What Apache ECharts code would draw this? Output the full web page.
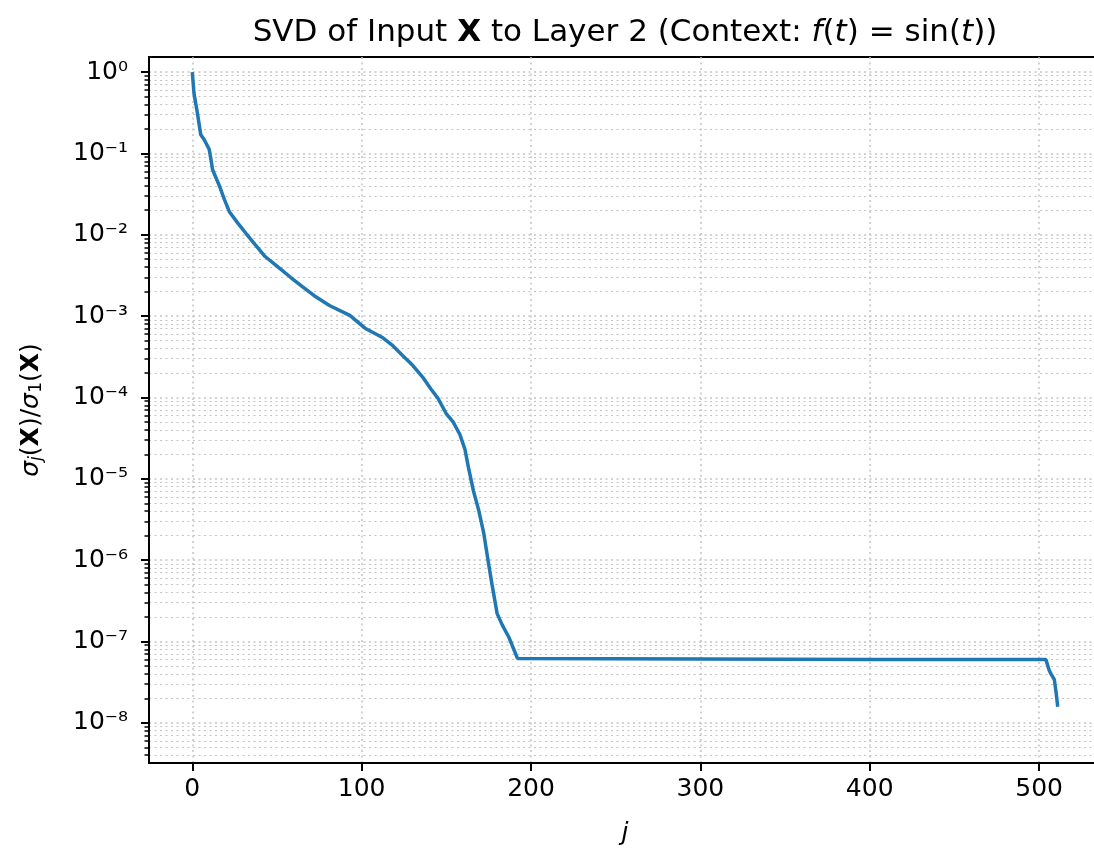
<!DOCTYPE html>
<html>
<head>
<meta charset="utf-8">
<script src="https://cdn.jsdelivr.net/npm/echarts@6/dist/echarts.min.js"></script>
<style>
  html, body { margin: 0; padding: 0; background: #fff; overflow: hidden; }
  #chart { width: 1110px; height: 851px; }
</style>
</head>
<body>
<div id="chart"></div>
<script>
// singular value index j
var jIdx = [0, 1, 3, 5, 7, 10, 11, 12, 16, 19, 22, 27, 32, 37, 43, 52, 58, 65, 72, 81,
  93, 102, 112, 118, 124, 130, 136, 141, 145, 150, 154, 158, 161, 163, 165, 166, 169,
  172, 175, 177, 180, 183, 187, 192, 300, 400, 504, 506, 507, 508, 509, 510, 511];
// sigma_j / sigma_1
var ratio = [1.0, 0.55, 0.316, 0.17, 0.148, 0.112, 0.085, 0.063, 0.040, 0.027, 0.019,
  0.0138, 0.0102, 0.0076, 0.0054, 0.0038, 0.0030, 0.0023, 0.00178, 0.00135,
  0.00102, 0.00071, 0.00055, 0.00044, 0.00033, 0.00025, 0.000178, 0.000126, 9.8e-5,
  6.3e-5, 5.0e-5, 3.5e-5, 2.3e-5, 1.4e-5, 8.9e-6, 7.1e-6, 4.2e-6,
  2.2e-6, 8.9e-7, 5.0e-7, 2.2e-7, 1.6e-7, 1.12e-7, 6.2e-8, 6.1e-8, 6.0e-8, 6.0e-8,
  4.4e-8, 4.0e-8, 3.8e-8, 3.4e-8, 2.4e-8, 1.58e-8];

// tick values
var xTicks = [0, 100, 200, 300, 400, 500];
var yTicks = [1e-8, 1e-7, 1e-6, 1e-5, 1e-4, 1e-3, 1e-2, 1e-1, 1];
var yMinorTicks = [];
for (var k = -9; k <= 0; k++) {
  for (var m = 2; m <= 9; m++) {
    var v = m * Math.pow(10, k);
    if (v > 3.21e-9 && v < 1.53) yMinorTicks.push(v);
  }
}

var FONT = 'DejaVu Sans';
var gridColor = '#c4c4c4';
var SUP = { '0': '\u2070', '1': '\u00b9', '2': '\u00b2', '3': '\u00b3', '4': '\u2074',
  '5': '\u2075', '6': '\u2076', '7': '\u2077', '8': '\u2078', '9': '\u2079', '-': '\u207b' };

var chart = echarts.init(document.getElementById('chart'));

// 10^k with superscript exponent
function expLabel(value) {
  var e = '' + Math.round(Math.log(value) / Math.LN10);
  var s = '';
  for (var i = 0; i < e.length; i++) s += SUP[e[i]];
  return '10' + s;
}

var option = {
  animation: false,
  backgroundColor: '#fff',
  title: {
    text: 'SVD of Input {b|X} to Layer 2 (Context: {i|f}({i|t}) = sin({i|t}))',
    left: 625,
    top: 17,
    padding: 0,
    textAlign: 'center',
    textStyle: {
      fontFamily: FONT, fontSize: 31, fontWeight: 'normal', color: '#000',
      rich: {
        b: { fontFamily: FONT, fontSize: 31, fontWeight: 'bold', color: '#000' },
        i: { fontFamily: FONT, fontSize: 31, fontStyle: 'italic', color: '#000' }
      }
    }
  },
  grid: {
    left: 149, top: 57, width: 952, height: 709,
    show: true, borderColor: '#000', borderWidth: 2
  },
  xAxis: {
    type: 'value',
    min: -25.55, max: 536.55,
    name: 'j',
    nameLocation: 'middle',
    nameGap: 58,
    nameTextStyle: { fontFamily: FONT, fontSize: 25, fontStyle: 'italic', color: '#000' },
    axisLine: { show: true, onZero: false, lineStyle: { color: '#000', width: 2 } },
    axisTick: { show: true, inside: false, customValues: xTicks, length: 8, lineStyle: { color: '#000', width: 2 } },
    axisLabel: {
      customValues: xTicks, margin: 14,
      fontFamily: FONT, fontSize: 25, color: '#000'
    },
    splitLine: { show: true, lineStyle: { color: gridColor, width: 1.5, type: [2, 3.5] } }
  },
  yAxis: [{
    type: 'log',
    logBase: 10,
    min: 3.21e-9, max: 1.53,
    name: '{s|\u03c3}{sub|j}{p|(}{b|X}{p|)/}{s|\u03c3}{sub1|1}{p|(}{b|X}{p|)}',
    nameLocation: 'middle',
    nameRotate: 90,
    nameGap: 104,
    nameTextStyle: {
      fontFamily: FONT, fontSize: 25, color: '#000',
      rich: {
        s: { fontFamily: FONT, fontSize: 25, fontStyle: 'italic', color: '#000' },
        p: { fontFamily: FONT, fontSize: 25, color: '#000' },
        b: { fontFamily: FONT, fontSize: 25, fontWeight: 'bold', color: '#000' },
        sub: { fontFamily: FONT, fontSize: 17.5, fontStyle: 'italic', color: '#000', padding: [10, 0, 0, 0] },
        sub1: { fontFamily: FONT, fontSize: 17.5, color: '#000', padding: [10, 0, 0, 0] }
      }
    },
    axisLine: { show: true, onZero: false, lineStyle: { color: '#000', width: 2 } },
    axisTick: { show: true, inside: false, customValues: yTicks, length: 8, lineStyle: { color: '#000', width: 2 } },
    axisLabel: {
      customValues: yTicks, margin: 21, align: 'right',
      formatter: expLabel,
      fontFamily: FONT, fontSize: 25, color: '#000'
    },
    splitLine: { show: true, lineStyle: { color: gridColor, width: 1.5, type: [2, 3.5] } }
  }, {
    type: 'log',
    logBase: 10,
    min: 3.21e-9, max: 1.53,
    position: 'left',
    axisLine: { show: false, onZero: false },
    axisTick: { show: true, inside: false, customValues: yMinorTicks, length: 4.5, lineStyle: { color: '#000', width: 1.5 } },
    axisLabel: { show: false },
    splitLine: { show: true, lineStyle: { color: gridColor, width: 1.2, type: [2, 3.5] } }
  }],
  series: [{
    type: 'line',
    yAxisIndex: 0,
    data: jIdx.map(function (j, i) { return [j, ratio[i]]; }),
    showSymbol: false,
    symbol: 'none',
    lineStyle: { color: '#1f77b4', width: 3.5 },
    clip: true
  }]
};

chart.setOption(option);
</script>
</body>
</html>
